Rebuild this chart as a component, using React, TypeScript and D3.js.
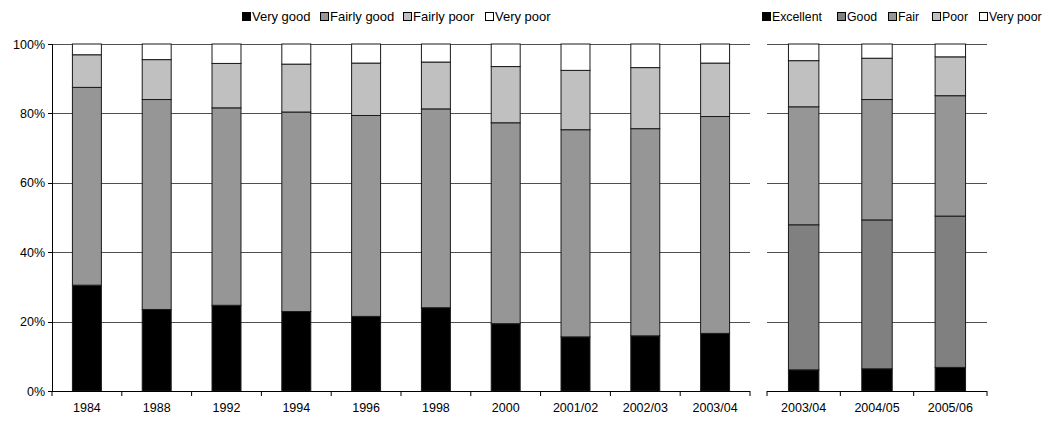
import * as d3 from "d3";

const yearsA = ["1984", "1988", "1992", "1994", "1996", "1998", "2000", "2001/02", "2002/03", "2003/04"];
const veryGood = [30.5, 23.5, 24.7, 22.9, 21.5, 24.0, 19.4, 15.6, 15.9, 16.6];
const fairlyGood = [57.0, 60.5, 56.9, 57.5, 57.9, 57.3, 57.9, 59.7, 59.7, 62.5];
const fairlyPoor = [9.4, 11.5, 12.8, 13.8, 15.1, 13.5, 16.2, 17.1, 17.6, 15.4];
const veryPoorA = [3.1, 4.5, 5.6, 5.8, 5.5, 5.2, 6.5, 7.6, 6.8, 5.5];
const keysA = ["Very good", "Fairly good", "Fairly poor", "Very poor"];
const coloursA = ["#000000", "#969696", "#c0c0c0", "#ffffff"];

const yearsB = ["2003/04", "2004/05", "2005/06"];
const excellent = [6.1, 6.4, 6.8];
const good = [41.8, 42.9, 43.6];
const fair = [34.0, 34.7, 34.7];
const poor = [13.3, 11.9, 11.2];
const veryPoorB = [4.8, 4.1, 3.7];
const keysB = ["Excellent", "Good", "Fair", "Poor", "Very poor"];
const coloursB = ["#000000", "#808080", "#969696", "#c0c0c0", "#ffffff"];

const yTicks = [0, 20, 40, 60, 80, 100];

const FONT = "'Liberation Sans', Arial, sans-serif";
const TOP = 44;
const BOTTOM = 391;

const y = d3.scaleLinear().domain([0, 100]).range([BOTTOM, TOP]);

type Panel = {
  cats: string[];
  series: number[][];
  keys: string[];
  colours: string[];
  x0: number;
  x1: number;
  legendX: number[];
  legendFont: number;
};

const panels: Panel[] = [
  {
    cats: yearsA,
    series: [veryGood, fairlyGood, fairlyPoor, veryPoorA],
    keys: keysA,
    colours: coloursA,
    x0: 52,
    x1: 750,
    legendX: [242, 320, 403, 485],
    legendFont: 13,
  },
  {
    cats: yearsB,
    series: [excellent, good, fair, poor, veryPoorB],
    keys: keysB,
    colours: coloursB,
    x0: 767,
    x1: 987,
    legendX: [762, 837, 888, 932, 979],
    legendFont: 12.3,
  },
];

function BarPanel({ p, showAxis }: { p: Panel; showAxis: boolean }) {
  const x = d3
    .scaleBand()
    .domain(p.cats)
    .range([p.x0, p.x1])
    .paddingInner(0.585)
    .paddingOuter(0.2925);
  const rows = p.cats.map((c, i) => {
    const r: any = { cat: c };
    p.keys.forEach((k, j) => (r[k] = p.series[j][i]));
    return r;
  });
  const stacked = d3.stack().keys(p.keys)(rows);
  const step = x.step();
  const ticksX = d3.range(p.cats.length + 1).map((i) => p.x0 + i * step);

  return (
    <g>
      {yTicks.slice(1).map((t) => (
        <line key={t} x1={p.x0} x2={p.x1} y1={Math.round(y(t)) + 0.5} y2={Math.round(y(t)) + 0.5} stroke="#505050" strokeWidth={1} />
      ))}
      {stacked.map((s, j) => (
        <g key={p.keys[j]} fill={p.colours[j]}>
          {s.map((d, i) => (
            <rect
              key={i}
              x={(x(p.cats[i]) as number)}
              y={y(d[1])}
              width={x.bandwidth()}
              height={y(d[0]) - y(d[1])}
              stroke="#1a1a1a"
              strokeWidth={1}
            />
          ))}
        </g>
      ))}
      <line x1={p.x0} x2={p.x1} y1={BOTTOM + 0.5} y2={BOTTOM + 0.5} stroke="#000" />
      {ticksX.map((t, i) => (
        <line key={i} x1={t} x2={t} y1={BOTTOM} y2={BOTTOM + 5} stroke="#000" />
      ))}
      {p.cats.map((c) => (
        <text
          key={c}
          x={(x(c) as number) + x.bandwidth() / 2}
          y={412}
          textAnchor="middle"
          fontSize={12.5}
          fontFamily={FONT}
          fill="#000"
        >
          {c}
        </text>
      ))}
      {showAxis && (
        <g>
          <line x1={p.x0 + 0.5} x2={p.x0 + 0.5} y1={TOP} y2={BOTTOM} stroke="#000" />
          {yTicks.map((t) => (
            <g key={t}>
              <line x1={p.x0 - 4} x2={p.x0} y1={Math.round(y(t)) + 0.5} y2={Math.round(y(t)) + 0.5} stroke="#000" />
              <text x={p.x0 - 7} y={y(t) + 4.5} textAnchor="end" fontSize={12.5} fontFamily={FONT} fill="#000">
                {t}%
              </text>
            </g>
          ))}
        </g>
      )}
      {p.keys.map((k, j) => (
        <g key={k}>
          <rect x={p.legendX[j] + 0.5} y={12.5} width={8} height={8} fill={p.colours[j]} stroke="#000" strokeWidth={1} />
          <text x={p.legendX[j] + 10} y={21} fontSize={p.legendFont} fontFamily={FONT} fill="#000">
            {k}
          </text>
        </g>
      ))}
    </g>
  );
}

export default function App() {
  return (
    <svg
      width={1054}
      height={421}
      style={{ position: "absolute", left: 0, top: 0, background: "#fff" }}
    >
      <rect x={0} y={0} width={1054} height={421} fill="#fff" />
      <BarPanel p={panels[0]} showAxis={true} />
      <BarPanel p={panels[1]} showAxis={false} />
    </svg>
  );
}
